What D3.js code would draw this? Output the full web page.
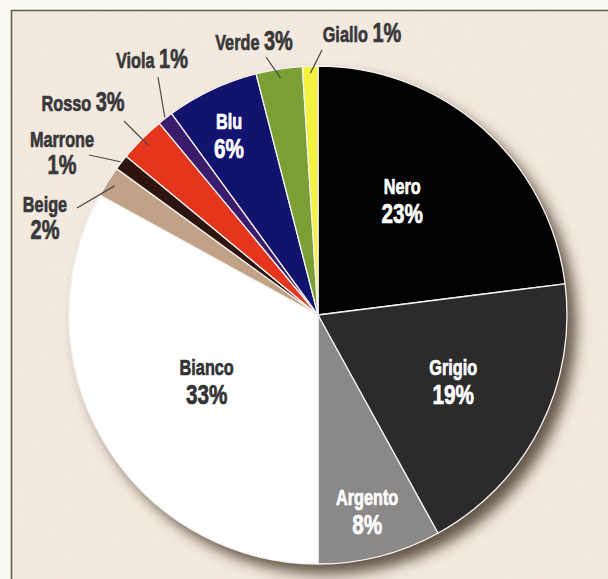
<!DOCTYPE html>
<html>
<head>
<meta charset="utf-8">
<script src="https://cdn.jsdelivr.net/npm/d3@7"></script>
<style>
  html, body { margin: 0; padding: 0; background: #fbfaf1; }
  svg { display: block; }
  text { font-family: "Liberation Sans", Arial, sans-serif; font-weight: bold; stroke-width: 0.7; stroke-linejoin: round; }
</style>
</head>
<body>
<script>
// ---- data ----
const categories = ["Nero", "Grigio", "Argento", "Bianco", "Beige", "Marrone", "Rosso", "Viola", "Blu", "Verde", "Giallo"];
const values = [23, 19, 8, 33, 2, 1, 3, 1, 6, 3, 1];
const sliceColors = ["#020202", "#2c2b2b", "#8a8988", "#ffffff", "#c1a287", "#2e140f", "#e5361d", "#3b1b6b", "#12126f", "#7b9f35", "#f3f23f"];

// ---- layout (kept apart from data) ----
const W = 608, H = 579;
const cx = 318, cy = 315, R = 249;
const SX = 0.74; // condensed look
// inner labels: slice index -> [radius, angle offset in degrees]
const innerLabels = [
  {i: 0, r: 142, da: -5},
  {i: 1, r: 151, da: -0.6},
  {i: 2, r: 203, da: 0.4},
  {i: 3, r: 130, da: -0.5},
  {i: 8, r: 200, da: -1.2}
];
// outside labels: slice index, text centre, baselines, leader outer end, leader inner radius
const outerLabels = [
  {i: 10, x: 362, y: 42, oneLine: true, lx: 322, ly: 50, lr: 242},
  {i: 9,  x: 254, y: 50, oneLine: true, lx: 266, ly: 57, lr: 240},
  {i: 7,  x: 152, y: 68, oneLine: true, lx: 158, ly: 77, lr: 250},
  {i: 6,  x: 83,  y: 111, oneLine: true, lx: 124, ly: 121, lr: 240},
  {i: 5,  x: 62,  y: 147, oneLine: false, lx: 89, ly: 155, lr: 250},
  {i: 4,  x: 45,  y: 212, oneLine: false, lx: 77, ly: 208, lr: 241}
];

const svg = d3.select("body").append("svg").attr("width", W).attr("height", H);
const defs = svg.append("defs");

// paper texture
const tex = defs.append("filter").attr("id", "paper").attr("x", 0).attr("y", 0).attr("width", 1).attr("height", 1);
tex.append("feTurbulence").attr("type", "fractalNoise").attr("baseFrequency", 0.08).attr("numOctaves", 2).attr("seed", 3).attr("result", "n");
tex.append("feColorMatrix").attr("in", "n").attr("type", "matrix")
  .attr("values", "0 0 0 0 0.95  0 0 0 0 0.86  0 0 0 0 0.81  0 0 0 0.4 0").attr("result", "c");
tex.append("feComposite").attr("in", "c").attr("in2", "SourceGraphic").attr("operator", "in");

const sh = defs.append("filter").attr("id", "shadow").attr("x", "-20%").attr("y", "-20%").attr("width", "150%").attr("height", "150%");
sh.append("feDropShadow").attr("dx", 9).attr("dy", 10).attr("stdDeviation", 7)
  .attr("flood-color", "#3e3024").attr("flood-opacity", 0.8);

// background & frame
svg.append("rect").attr("x", 0).attr("y", 0).attr("width", W).attr("height", H).attr("fill", "#fbfaf1");
svg.append("rect").attr("x", 11).attr("y", 10).attr("width", W).attr("height", H).attr("fill", "#f1e8dc");
svg.append("rect").attr("x", 11).attr("y", 10).attr("width", W).attr("height", H).attr("fill", "#f1e8dc").attr("filter", "url(#paper)");
svg.append("path").attr("d", `M11.5,${H} V10.5 H${W}`).attr("fill", "none").attr("stroke", "#5c6250").attr("stroke-width", 1.6);

// pie
const pie = d3.pie().sort(null).value(d => d.v).startAngle(0).endAngle(2 * Math.PI);
const rows = categories.map((c, i) => ({c, v: values[i], col: sliceColors[i]}));
const arcs = pie(rows);
const arc = d3.arc().innerRadius(0).outerRadius(R);

const g = svg.append("g").attr("transform", `translate(${cx},${cy})`);
g.append("circle").attr("r", R).attr("fill", "#fff").attr("filter", "url(#shadow)");
g.selectAll("path.slice").data(arcs).join("path")
  .attr("class", "slice")
  .attr("d", arc)
  .attr("fill", d => d.data.col)
  .attr("stroke", "#f4f1ee")
  .attr("stroke-width", 1.3)
  .attr("stroke-linejoin", "round");

function polar(r, a) { return [r * Math.sin(a), -r * Math.cos(a)]; }

// inner labels
innerLabels.forEach(l => {
  const d = arcs[l.i];
  const a = (d.startAngle + d.endAngle) / 2 + l.da * Math.PI / 180;
  const [x, y] = polar(l.r, a);
  const fill = d.data.c === "Bianco" ? "#333" : "#fff";
  g.append("text").attr("text-anchor", "middle").attr("fill", fill).attr("stroke", fill)
    .attr("transform", `translate(${x},${y - 7}) scale(${SX},1)`)
    .attr("font-size", 22).text(d.data.c);
  g.append("text").attr("text-anchor", "middle").attr("fill", fill).attr("stroke", fill)
    .attr("transform", `translate(${x},${y + 22}) scale(${SX},1)`)
    .attr("font-size", 28).text(d.data.v + "%");
});

// outside labels + leaders
const outCol = "#38383b";
outerLabels.forEach(l => {
  const d = arcs[l.i];
  const a = (d.startAngle + d.endAngle) / 2;
  const [ix, iy] = polar(l.lr, a);
  svg.append("line")
    .attr("x1", l.lx).attr("y1", l.ly)
    .attr("x2", cx + ix).attr("y2", cy + iy)
    .attr("stroke", "#4a4a4a").attr("stroke-width", 1.2);
  if (l.oneLine) {
    const t = svg.append("text").attr("text-anchor", "middle").attr("fill", outCol).attr("stroke", outCol)
      .attr("transform", `translate(${l.x},${l.y}) scale(${SX},1)`);
    t.append("tspan").attr("font-size", 22).text(d.data.c + " ");
    t.append("tspan").attr("font-size", 27).text(d.data.v + "%");
  } else {
    svg.append("text").attr("text-anchor", "middle").attr("fill", outCol).attr("stroke", outCol)
      .attr("transform", `translate(${l.x},${l.y}) scale(${SX},1)`)
      .attr("font-size", 22).text(d.data.c);
    svg.append("text").attr("text-anchor", "middle").attr("fill", outCol).attr("stroke", outCol)
      .attr("transform", `translate(${l.x},${l.y + 27}) scale(${SX},1)`)
      .attr("font-size", 27).text(d.data.v + "%");
  }
});
</script>
</body>
</html>
